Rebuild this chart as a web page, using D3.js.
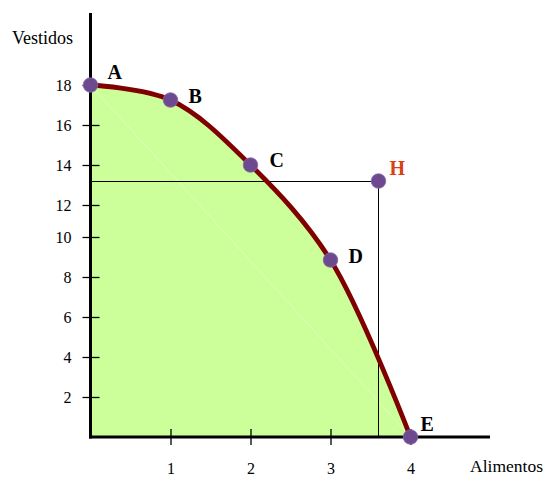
<!DOCTYPE html>
<html>
<head>
<meta charset="utf-8">
<script src="https://cdn.jsdelivr.net/npm/d3@7"></script>
<style>
  body { margin: 0; background: #fff; }
  svg, text { font-family: "Liberation Serif", "Times New Roman", serif; }
</style>
</head>
<body>
<div id="chart"></div>
<script>
// frontier points (Alimentos, Vestidos)
const pointNames = ["A", "B", "C", "D", "E"];
const alimentos = [0, 1, 2, 3, 4];
const vestidos = [18, 17.25, 14, 8.85, 0];

// point outside the frontier
const outsideName = "H";
const outsideAlimentos = 3.6;
const outsideVestidos = 13.2;

const xTicks = [1, 2, 3, 4];
const yTicks = [2, 4, 6, 8, 10, 12, 14, 16, 18];

const drawChart = () => {
  const width = 545, height = 477;

  const svg = d3.select("#chart")
    .append("svg")
      .attr("width", width)
      .attr("height", height)
      .attr("font-family", "'Liberation Serif', 'Times New Roman', serif");

  const x = d3.scaleLinear()
    .domain([0, 4])
    .range([90.5, 410.5]);

  // the original spacing of the vertical axis is uneven between 10 and 12
  const y = d3.scaleLinear()
    .domain([0, 10, 12, 18])
    .range([437, 237, 205, 85]);

  const data = alimentos.map((a, i) => ({name: pointNames[i], x: a, y: vestidos[i]}));

  const curve = d3.curveCatmullRom.alpha(0.5);

  // green area under the frontier
  svg.append("path")
    .datum(data)
    .attr("fill", "#ccff99")
    .attr("d", d3.area()
      .x(d => x(d.x))
      .y0(y(0))
      .y1(d => y(d.y))
      .curve(curve));

  // faint seam in the fill
  svg.append("line")
    .attr("x1", x(0)).attr("y1", y(18))
    .attr("x2", x(4)).attr("y2", y(0))
    .attr("stroke", "#e2ffc4")
    .attr("stroke-width", 0.8);

  // guide lines to H
  const hx = Math.floor(x(outsideAlimentos)) + 0.5;
  const hy = Math.round(y(outsideVestidos)) + 0.5;
  svg.append("line")
    .attr("x1", x(0)).attr("y1", hy)
    .attr("x2", hx).attr("y2", hy)
    .attr("stroke", "#000").attr("stroke-width", 1);
  svg.append("line")
    .attr("x1", hx).attr("y1", hy)
    .attr("x2", hx).attr("y2", y(0))
    .attr("stroke", "#000").attr("stroke-width", 1);

  // axes
  const yAxis = svg.append("g")
    .attr("transform", "translate(" + x(0) + ",0)")
    .call(d3.axisLeft(y).tickValues(yTicks).tickSize(8).tickPadding(11).tickFormat(d3.format("d")));
  yAxis.select(".domain").remove();
  yAxis.selectAll(".tick line").attr("x2", -8).attr("x1", 9).attr("stroke-width", 1.3);
  yAxis.selectAll(".tick text").attr("font-size", 16).attr("fill", "#000")
    .attr("font-family", "'Liberation Serif', serif");

  const xAxis = svg.append("g")
    .attr("transform", "translate(0," + y(0) + ")")
    .call(d3.axisBottom(x).tickValues(xTicks).tickSize(8).tickFormat(d3.format("d")));
  xAxis.select(".domain").remove();
  xAxis.selectAll(".tick line").attr("y1", -8).attr("y2", 8).attr("stroke-width", 1.3);
  xAxis.selectAll(".tick text").attr("font-size", 16).attr("fill", "#000")
    .attr("y", 37).attr("dy", 0)
    .attr("font-family", "'Liberation Serif', serif");

  svg.append("line")
    .attr("x1", x(0)).attr("y1", 13)
    .attr("x2", x(0)).attr("y2", y(0) + 1.5)
    .attr("stroke", "#000").attr("stroke-width", 3);
  svg.append("line")
    .attr("x1", x(0) - 1.5).attr("y1", y(0))
    .attr("x2", 490).attr("y2", y(0))
    .attr("stroke", "#000").attr("stroke-width", 3);

  svg.append("text")
    .attr("x", 12).attr("y", 44)
    .attr("font-size", 18)
    .text("Vestidos");
  svg.append("text")
    .attr("x", 543).attr("y", 472)
    .attr("text-anchor", "end")
    .attr("font-size", 17.5)
    .text("Alimentos");

  // frontier curve
  svg.append("path")
    .datum(data)
    .attr("fill", "none")
    .attr("stroke", "#800000")
    .attr("stroke-width", 4.8)
    .attr("d", d3.line()
      .x(d => x(d.x))
      .y(d => y(d.y))
      .curve(curve));

  const markers = data.concat([{name: outsideName, x: outsideAlimentos, y: outsideVestidos}]);

  svg.selectAll(".marker")
    .data(markers)
    .enter()
    .append("circle")
      .attr("class", "marker")
      .attr("cx", d => x(d.x))
      .attr("cy", d => y(d.y))
      .attr("r", 7.3)
      .attr("fill", "#6d4a8f")
      .attr("stroke", "#8a6aa8")
      .attr("stroke-width", 0.8);

  const labelOffset = {A: [17, -6], B: [18, 3], C: [19, 2], D: [18, 3], E: [10, -6], H: [11, -6]};

  svg.selectAll(".pt-label")
    .data(markers)
    .enter()
    .append("text")
      .attr("class", "pt-label")
      .attr("x", d => x(d.x) + labelOffset[d.name][0])
      .attr("y", d => y(d.y) + labelOffset[d.name][1])
      .attr("font-size", 20)
      .attr("font-weight", "bold")
      .attr("fill", d => d.name === outsideName ? "#d9420f" : "#000")
      .text(d => d.name);
};

drawChart();
</script>
</body>
</html>
